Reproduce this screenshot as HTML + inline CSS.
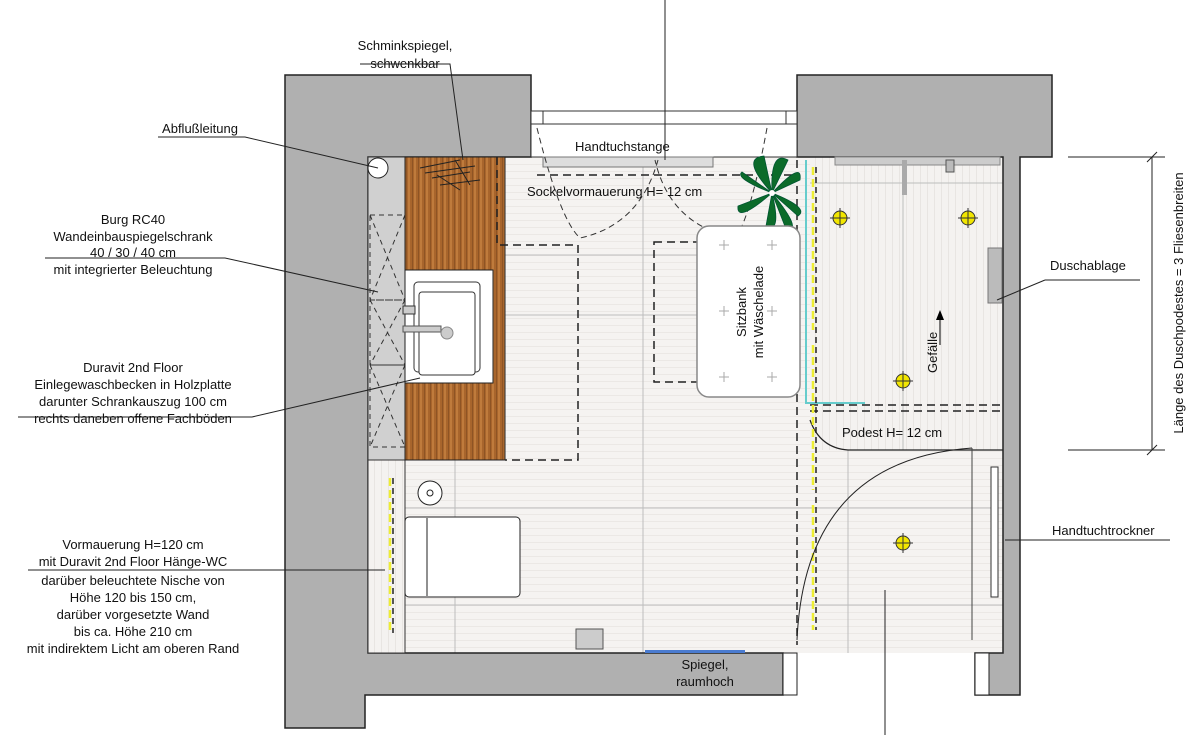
<!DOCTYPE html>
<html><head><meta charset="utf-8"><style>
html,body{margin:0;padding:0;background:#fff}
svg{display:block}
text{font-family:"Liberation Sans",sans-serif;font-size:13px;fill:#111}
</style></head><body>
<svg width="1200" height="741" viewBox="0 0 1200 741" xmlns="http://www.w3.org/2000/svg">
<defs>
<pattern id="wood" width="6" height="10" patternUnits="userSpaceOnUse">
<rect width="6" height="10" fill="#a8652c"/><rect x="0" width="2" height="10" fill="#bf7b3c"/><rect x="4" width="1" height="10" fill="#8e5424"/>
</pattern>
<pattern id="tile" width="8" height="7" patternUnits="userSpaceOnUse">
<rect width="8" height="7" fill="#f5f3f1"/><rect y="3" width="8" height="1" fill="#ebe8e5"/>
</pattern>
<pattern id="vtile" width="7" height="8" patternUnits="userSpaceOnUse">
<rect width="7" height="8" fill="#f4f2f0"/><rect x="3" width="1" height="8" fill="#e8e5e2"/>
</pattern>
</defs>

<rect x="368" y="157" width="635" height="496" fill="url(#tile)"/>
<rect x="810" y="157" width="193" height="293" fill="url(#vtile)"/>
<g stroke="#bdbdbd" stroke-width="1">
<line x1="455" y1="460" x2="455" y2="653"/><line x1="643" y1="157" x2="643" y2="653"/>
<line x1="848" y1="450" x2="848" y2="653"/>
<line x1="505" y1="255" x2="797" y2="255"/><line x1="505" y1="315" x2="797" y2="315"/>
<line x1="405" y1="508" x2="1003" y2="508"/><line x1="405" y1="605" x2="1003" y2="605"/>
<line x1="810" y1="183" x2="1003" y2="183"/><line x1="903" y1="170" x2="903" y2="450"/>
</g>

<g fill="#b0b0b0" stroke="#222" stroke-width="1.5">
<path d="M285 75 H531 V157 H368 V653 H783 V695 H365 V728 H285 Z"/>
<path d="M797 75 H1052 V157 H1020 V695 H975 V653 H1003 V157 H797 Z"/>
</g>
<g fill="#fff" stroke="#333" stroke-width="1">
<rect x="531" y="111" width="266" height="46"/><line x1="531" y1="124" x2="797" y2="124"/>
<line x1="543" y1="111" x2="543" y2="124"/><line x1="786" y1="111" x2="786" y2="124"/>
</g>
<rect x="543" y="157" width="170" height="10" fill="#ddd" stroke="#777"/>
<g fill="#fff" stroke="#222"><rect x="783" y="653" width="14" height="42"/><rect x="975" y="653" width="14" height="42"/></g>

<rect x="368" y="157" width="37" height="303" fill="#d0d0d0" stroke="#333"/>
<g stroke="#333" stroke-dasharray="5,4" fill="none">
<rect x="370" y="215" width="35" height="85"/><rect x="370" y="300" width="35" height="65"/><rect x="370" y="365" width="35" height="82"/>
<path d="M370 215 L405 300 M405 215 L370 300 M370 300 L405 365 M405 300 L370 365 M370 365 L405 447 M405 365 L370 447"/>
</g>
<rect x="368" y="460" width="37" height="193" fill="url(#vtile)" stroke="#333"/>
<circle cx="378" cy="168" r="10" fill="#fff" stroke="#222"/>
<rect x="405" y="157" width="100" height="303" fill="url(#wood)" stroke="#222"/>
<rect x="405" y="270" width="88" height="113" fill="#fff" stroke="#222"/>
<rect x="414" y="282" width="66" height="90" rx="4" fill="#fff" stroke="#333"/>
<rect x="419" y="292" width="56" height="83" rx="3" fill="#fff" stroke="#333"/>
<rect x="403" y="306" width="12" height="8" fill="#ccc" stroke="#333"/>
<rect x="403" y="326" width="38" height="6" fill="#ccc" stroke="#555"/>
<circle cx="447" cy="333" r="6" fill="#ccc" stroke="#888"/>
<path d="M420 168 L460 160 M425 173 L475 166 M432 178 L470 172 M440 185 L480 180 M437 175 L460 190 M455 160 L470 185" stroke="#222" fill="none"/>
<g stroke="#222" stroke-width="1.5" stroke-dasharray="8,5" fill="none">
<path d="M497 157 V245 H578 V460 H505"/>
<rect x="654" y="242" width="76" height="140"/>
<line x1="537" y1="175" x2="797" y2="175"/>
<line x1="797" y1="160" x2="797" y2="645"/>
<path d="M810 405 H1003 M810 411 H1003"/>
</g>
<g stroke="#333" stroke-dasharray="6,4" fill="none">
<path d="M537 128 Q560 220 580 238 Q640 225 658 160"/>
<path d="M767 128 Q750 220 735 238 Q670 225 655 160"/>
</g>
<text x="575" y="151">Handtuchstange</text>
<text x="527" y="196">Sockelvormauerung H= 12 cm</text>

<g fill="#0b6b2a" stroke="#053" stroke-width="0.8">
<path d="M772 193 Q740 158 764 156 Z"/><path d="M772 193 Q803 160 800 180 Z"/><path d="M772 193 Q810 208 798 216 Z"/>
<path d="M772 193 Q782 234 766 226 Z"/><path d="M772 193 Q736 224 738 206 Z"/><path d="M772 193 Q734 178 742 172 Z"/>
<path d="M772 193 Q770 150 788 160 Z"/><path d="M772 193 Q804 232 786 229 Z"/>
</g>
<circle cx="772" cy="193" r="3" fill="#fff"/>

<rect x="697" y="226" width="103" height="171" rx="12" fill="#fff" stroke="#888" stroke-width="1.5"/>
<g stroke="#aaa" fill="none">
<path d="M729 245 h-10 m5 -5 v10 M777 245 h-10 m5 -5 v10 M729 311 h-10 m5 -5 v10 M777 311 h-10 m5 -5 v10 M729 377 h-10 m5 -5 v10 M777 377 h-10 m5 -5 v10"/>
</g>
<text transform="translate(746 312) rotate(-90)" text-anchor="middle">Sitzbank</text>
<text transform="translate(763 312) rotate(-90)" text-anchor="middle">mit Wäschelade</text>

<path d="M806 160 V403 H865" stroke="#6cc" stroke-width="2" fill="none"/>
<path d="M810 420 Q820 448 848 450 H1003" stroke="#222" stroke-width="1.2" fill="none"/>
<rect x="835" y="157" width="165" height="8" fill="#ccc" stroke="#888"/>
<rect x="902" y="160" width="5" height="35" fill="#aaa"/><rect x="946" y="160" width="8" height="12" fill="#bbb" stroke="#555"/>
<rect x="988" y="248" width="14" height="55" fill="#bbb" stroke="#777"/>
<text x="842" y="437">Podest H= 12 cm</text>
<text transform="translate(937 373) rotate(-90)">Gefälle</text>
<path d="M940 345 V318" stroke="#000"/><path d="M936 320 L940 310 L944 320 Z"/>
<g stroke="#ee3" stroke-width="2.5" stroke-dasharray="8,4">
<line x1="813" y1="167" x2="813" y2="330"/><line x1="813" y1="345" x2="813" y2="490"/><line x1="813" y1="505" x2="813" y2="630"/>
<line x1="390" y1="478" x2="390" y2="633"/>
</g>
<g stroke="#222" stroke-width="1.5" stroke-dasharray="6,4" fill="none"><line x1="816" y1="167" x2="816" y2="630"/><line x1="393" y1="478" x2="393" y2="633"/></g>
<g fill="#f2e600" stroke="#333">
<circle cx="840" cy="218" r="7"/><circle cx="968" cy="218" r="7"/><circle cx="903" cy="381" r="7"/><circle cx="903" cy="543" r="7"/>
</g>
<g stroke="#333"><path d="M830 218 h20 M840 208 v20 M958 218 h20 M968 208 v20 M893 381 h20 M903 371 v20 M893 543 h20 M903 533 v20"/></g>

<path d="M797 640 Q805 460 972 448" stroke="#222" fill="none"/>
<line x1="972" y1="448" x2="972" y2="640" stroke="#444"/>
<rect x="991" y="467" width="7" height="130" fill="#fff" stroke="#333"/>

<circle cx="430" cy="493" r="12" fill="#fff" stroke="#222"/><circle cx="430" cy="493" r="3" fill="none" stroke="#222"/>
<rect x="405" y="517" width="115" height="80" rx="4" fill="#fff" stroke="#222"/>
<line x1="427" y1="518" x2="427" y2="596" stroke="#222"/>
<rect x="576" y="629" width="27" height="20" fill="#ccc" stroke="#555"/>
<rect x="645" y="650" width="100" height="3" fill="#4a7bd0"/>
<text x="705" y="669" text-anchor="middle">Spiegel,</text>
<text x="705" y="686" text-anchor="middle">raumhoch</text>

<g stroke="#222" fill="none" stroke-width="1">
<line x1="665" y1="0" x2="665" y2="160"/>
<line x1="885" y1="590" x2="885" y2="735"/>
<path d="M158 137 H245 L378 168"/>
<path d="M45 258 H225 L378 292"/>
<path d="M18 417 H252 L420 378"/>
<path d="M28 570 H385"/>
<path d="M360 64 H450 L463 160"/>
<path d="M1045 280 H1140 M1045 280 L997 300"/>
<path d="M1005 540 H1170"/>
<path d="M1068 157 H1165 M1068 450 H1165 M1152 157 V450"/>
<path d="M1147 162 L1157 152 M1147 455 L1157 445"/>
</g>
<text x="200" y="133" text-anchor="middle">Abflußleitung</text>
<text x="405" y="50" text-anchor="middle">Schminkspiegel,</text>
<text x="405" y="68" text-anchor="middle">schwenkbar</text>
<g text-anchor="middle">
<text x="133" y="224">Burg RC40</text>
<text x="133" y="241">Wandeinbauspiegelschrank</text>
<text x="133" y="257">40 / 30 / 40 cm</text>
<text x="133" y="274">mit integrierter Beleuchtung</text>
<text x="133" y="372">Duravit 2nd Floor</text>
<text x="133" y="389">Einlegewaschbecken in Holzplatte</text>
<text x="133" y="406">darunter Schrankauszug 100 cm</text>
<text x="133" y="423">rechts daneben offene Fachböden</text>
<text x="133" y="549">Vormauerung H=120 cm</text>
<text x="133" y="566">mit Duravit 2nd Floor Hänge-WC</text>
<text x="133" y="585">darüber beleuchtete Nische von</text>
<text x="133" y="602">Höhe 120 bis 150 cm,</text>
<text x="133" y="619">darüber vorgesetzte Wand</text>
<text x="133" y="636">bis ca. Höhe 210 cm</text>
<text x="133" y="653">mit indirektem Licht am oberen Rand</text>
</g>
<text x="1050" y="270">Duschablage</text>
<text x="1052" y="535">Handtuchtrockner</text>
<text transform="translate(1183 303) rotate(-90)" text-anchor="middle">Länge des Duschpodestes = 3 Fliesenbreiten</text>
</svg>
</body></html>
